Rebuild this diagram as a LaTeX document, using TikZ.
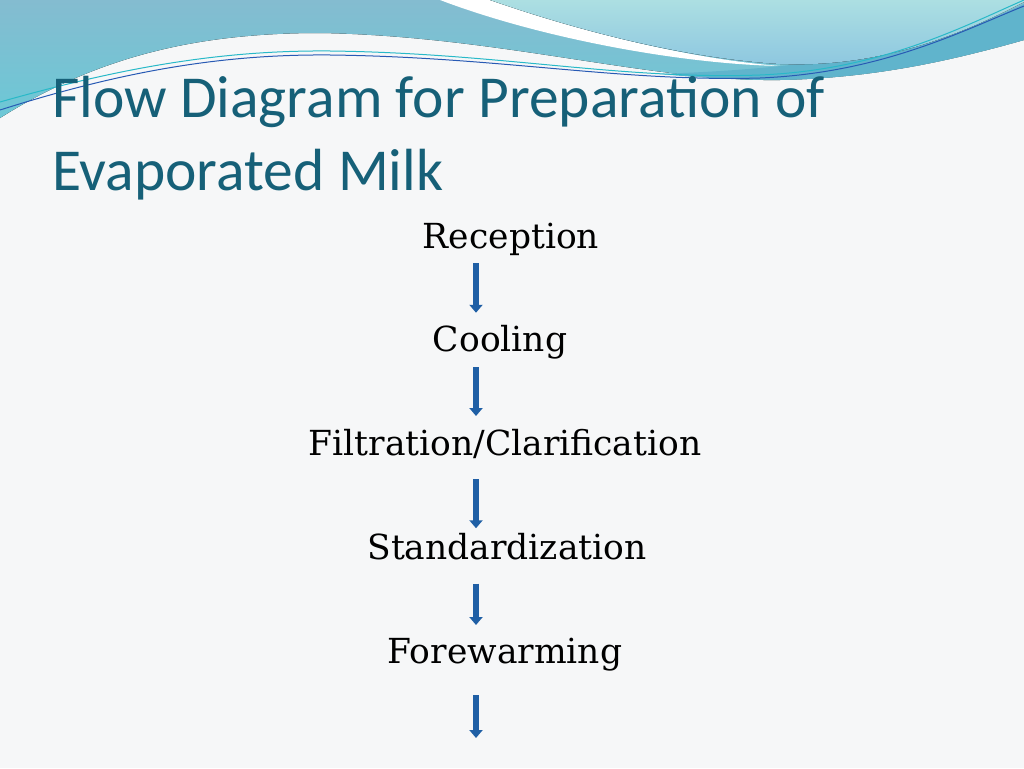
\documentclass[tikz,border=0pt]{standalone}
\usepackage{fontspec}
\setmainfont{DejaVu Serif}
\newfontfamily\titlefont{Carlito}
\usetikzlibrary{calc}
\usetikzlibrary{arrows.meta}
\usetikzlibrary{matrix,positioning}

\definecolor{titleteal}{RGB}{22,96,120}
\definecolor{flowblue}{RGB}{31,95,165}
\definecolor{waveteal}{RGB}{132,188,208}
\definecolor{wavecyan}{RGB}{108,200,214}
\definecolor{waveaqua}{RGB}{172,223,226}
\definecolor{waveaquab}{RGB}{140,198,224}
\definecolor{wavedeep}{RGB}{96,180,204}
\definecolor{lineblue}{RGB}{40,90,180}
\definecolor{linecyan}{RGB}{40,185,200}
\definecolor{slidebg}{RGB}{246,247,248}

\tikzset{
  flowarrow/.style={draw=flowblue, line width=5.5pt, -{Triangle[width=13pt,length=8pt]}},
  steptext/.style={font=\fontsize{34.5}{40}\selectfont, text height=25pt, text depth=0pt, inner sep=0pt}
}

\begin{document}
\begin{tikzpicture}[x=1pt,y=-1pt]
      \useasboundingbox (0,0) rectangle (1024,768);
      \fill[slidebg] (0,0) rectangle (1024,768);
      % waves along the top
      \fill[top color=waveteal, bottom color=wavecyan] (0,0) -- (1024,0) -- (1024,40)
        .. controls (960,58) and (880,78) .. (780,80)
        .. controls (650,82) and (500,36) .. (320,33)
        .. controls (200,33) and (100,55) .. (0,118) -- cycle;
      \fill[wavedeep] (1024,4) -- (1024,40) .. controls (960,58) and (880,78) .. (780,80)
        .. controls (740,80) and (700,78) .. (660,74)
        .. controls (760,70) and (900,62) .. (1024,4);
      \fill[white] (440,0) .. controls (540,38) and (680,64) .. (780,66)
        .. controls (680,58) and (570,28) .. (490,0) -- cycle;
      \fill[top color=waveaqua, bottom color=waveaquab] (490,0)
        .. controls (570,28) and (680,58) .. (780,64)
        .. controls (880,68) and (960,35) .. (1024,2) -- (1024,0) -- cycle;
      \draw[linecyan, line width=1pt] (0,102) .. controls (120,68) and (220,50) .. (330,51)
        .. controls (500,53) and (620,80) .. (760,75) .. controls (880,70) and (960,28) .. (1024,0);
      \draw[lineblue, line width=1pt] (0,110) .. controls (120,72) and (220,54) .. (330,55)
        .. controls (500,57) and (620,82) .. (760,78) .. controls (880,73) and (960,32) .. (1024,6);

      \node[font=\titlefont\fontsize{59.5}{73}\selectfont, text=titleteal, align=left,
        anchor=base west, inner sep=0pt] (title) at (52,190)
        {Flow Diagram for Preparation of\\Evaporated Milk};

      \matrix (flow) [matrix of nodes, nodes={steptext}, row sep=78.75pt, inner sep=0pt,
        anchor=north] at (505,223) {
        |[xshift=6pt]| Reception \\
        |[xshift=-5pt]| Cooling \\
        Filtration/Clarification \\
        |[xshift=2pt]| Standardization \\
        Forewarming \\
      };
      \coordinate (flowend) at (476,738);
      \draw[flowarrow] ($(flow-1-1.south -| flowend)+(0,15)$) -- ($(flow-2-1.north -| flowend)+(0,-14)$);
      \draw[flowarrow] ($(flow-2-1.south -| flowend)+(0,15)$) -- ($(flow-3-1.north -| flowend)+(0,-14.5)$);
      \draw[flowarrow] ($(flow-3-1.south -| flowend)+(0,23.5)$) -- ($(flow-4-1.north -| flowend)+(0,-6)$);
      \draw[flowarrow] ($(flow-4-1.south -| flowend)+(0,24)$) -- ($(flow-5-1.north -| flowend)+(0,-13)$);
      \draw[flowarrow] ($(flow-5-1.south -| flowend)+(0,32)$) -- (flowend);
    \end{tikzpicture}
\end{document}
